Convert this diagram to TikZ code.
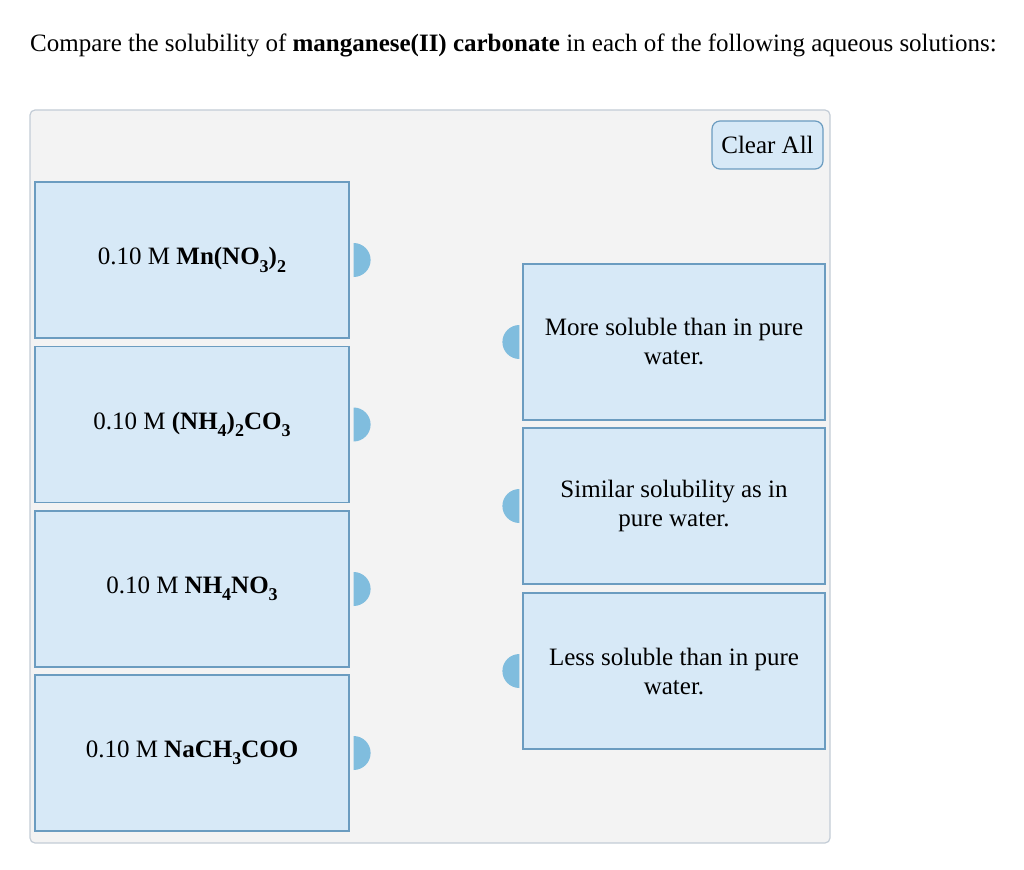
\documentclass[tikz,border=0pt]{standalone}
\usepackage{fontspec}
\setmainfont{Liberation Serif}
\usepackage{tikz}
\usetikzlibrary{arrows}

\definecolor{panelfill}{HTML}{F3F3F3}
\definecolor{panelline}{HTML}{C3CCD6}
\definecolor{boxfill}{HTML}{D7E9F7}
\definecolor{boxline}{HTML}{6B9CC0}
\definecolor{tabfill}{HTML}{80BDDE}

\newcommand{\chemsub}[1]{\raisebox{-0.3em}{\fontsize{18}{18}\selectfont #1}}

\tikzset{
  srcbox/.style={draw=boxline, fill=boxfill, line width=1.2pt, minimum width=314pt,
    minimum height=156pt, inner sep=0pt, font=\fontsize{25}{29}\selectfont},
  tgtbox/.style={draw=boxline, fill=boxfill, line width=1.2pt, minimum width=302pt,
    minimum height=156pt, inner sep=0pt, align=center, font=\fontsize{25}{29}\selectfont},
  clearbtn/.style={draw=boxline, fill=boxfill, line width=1.2pt, rounded corners=8pt,
    minimum width=111pt, minimum height=48pt, inner sep=0pt, font=\fontsize{25}{29}\selectfont}
}

\begin{document}
\begin{tikzpicture}[x=1pt, y=-1pt]
\useasboundingbox (0,0) rectangle (1024,869);

\node[anchor=base west, inner sep=0pt, font=\fontsize{25}{29}\selectfont] (title) at (30,52)
  {Compare the solubility of \textbf{manganese(II) carbonate} in each of the following aqueous solutions:};

\draw[draw=panelline, fill=panelfill, line width=1.2pt, rounded corners=5pt] (30,110) rectangle (830,843);

\node[clearbtn] (clear) at (767.5,145) {Clear All};

% left column
\node[srcbox] (s1) at (192,260) {0.10 M \textbf{Mn(NO\chemsub{3})\chemsub{2}}};
\node[srcbox] (s2) at (192,424.5) {0.10 M \textbf{(NH\chemsub{4})\chemsub{2}CO\chemsub{3}}};
\node[srcbox] (s3) at (192,589) {0.10 M \textbf{NH\chemsub{4}NO\chemsub{3}}};
\node[srcbox] (s4) at (192,753) {0.10 M \textbf{NaCH\chemsub{3}COO}};

% right column
\node[tgtbox] (t1) at (674,342) {More soluble than in pure\\water.};
\node[tgtbox] (t2) at (674,506) {Similar solubility as in\\pure water.};
\node[tgtbox] (t3) at (674,671) {Less soluble than in pure\\water.};

% tabs
\fill[tabfill] ([xshift=4pt]s1.east) ++(0,17) arc (90:-90:17) -- cycle;
\fill[tabfill] ([xshift=4pt]s2.east) ++(0,17) arc (90:-90:17) -- cycle;
\fill[tabfill] ([xshift=4pt]s3.east) ++(0,17) arc (90:-90:17) -- cycle;
\fill[tabfill] ([xshift=4pt]s4.east) ++(0,17) arc (90:-90:17) -- cycle;

\fill[tabfill] ([xshift=-3pt]t1.west) ++(0,17) arc (90:270:17) -- cycle;
\fill[tabfill] ([xshift=-3pt]t2.west) ++(0,17) arc (90:270:17) -- cycle;
\fill[tabfill] ([xshift=-3pt]t3.west) ++(0,17) arc (90:270:17) -- cycle;

\end{tikzpicture}
\end{document}
